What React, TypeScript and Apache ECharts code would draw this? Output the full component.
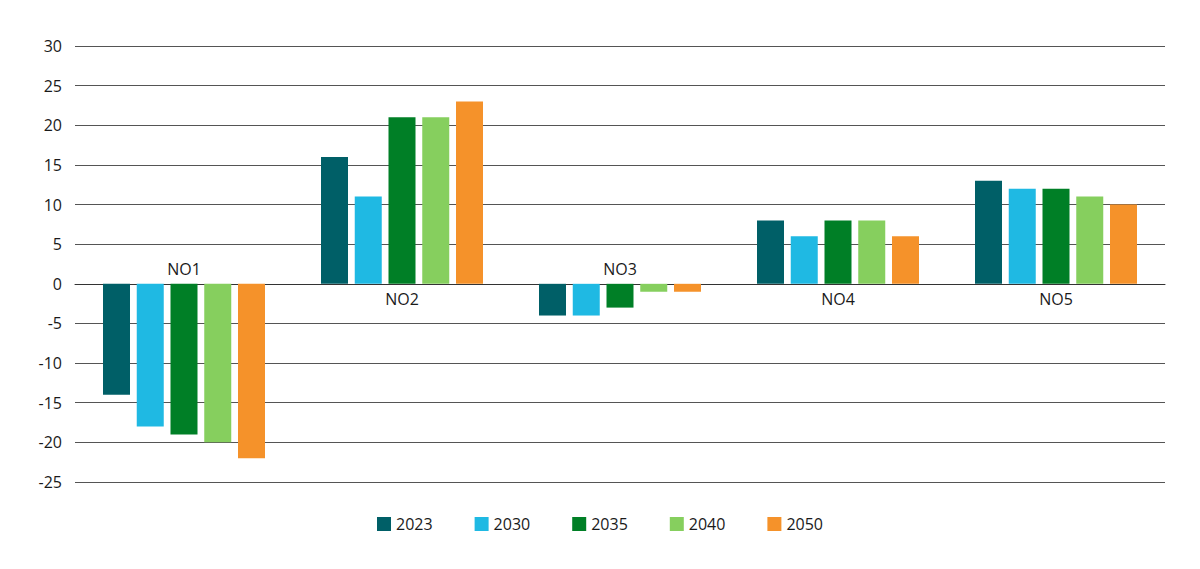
import React, { useEffect, useRef } from "react";
import * as echarts from "echarts";

const categories = ["NO1", "NO2", "NO3", "NO4", "NO5"];
const years = ["2023", "2030", "2035", "2040", "2050"];
const colors = ["#005f67", "#1fb9e3", "#007f26", "#86cf5e", "#f5922a"];
const v2023 = [-14, 16, -4, 8, 13];
const v2030 = [-18, 11, -4, 6, 12];
const v2035 = [-19, 21, -3, 8, 12];
const v2040 = [-20, 21, -1, 8, 11];
const v2050 = [-22, 23, -1, 6, 10];
const seriesValues = [v2023, v2030, v2035, v2040, v2050];
const yMin = -25;
const yMax = 30;
const yStep = 5;

const FONT = "'Open Sans', 'Noto Sans', sans-serif";
const TEXT = "#1a1a1a";

export default function App() {
  const ref = useRef<HTMLDivElement>(null);
  useEffect(() => {
    if (!ref.current) return;
    const chart = echarts.init(ref.current, null, { renderer: "svg" });
    const barSeries = years.map((y, i) => ({
      name: y,
      type: "bar",
      data: seriesValues[i],
      barWidth: 27,
      barGap: "25%",
      itemStyle: { color: colors[i] },
    }));
    const labelData = categories.map((c, ci) => {
      const neg = v2023[ci] < 0;
      return {
        value: [ci, 0],
        label: {
          show: true,
          position: neg ? "top" : "bottom",
          distance: 7,
          formatter: c,
          color: TEXT,
          opacity: 1,
          fontSize: 16,
          fontFamily: FONT,
        },
      };
    });
    chart.setOption({
      animation: false,
      textStyle: { fontFamily: FONT },
      grid: { left: 67, right: 27, top: 38, bottom: 79, containLabel: false },
      legend: {
        data: years,
        bottom: 24,
        left: "center",
        itemWidth: 14,
        itemHeight: 14,
        itemGap: 42,
        icon: "rect",
        textStyle: { fontSize: 16, color: TEXT, fontFamily: FONT },
      },
      xAxis: {
        type: "category",
        data: categories,
        axisLine: { show: true, onZero: true, lineStyle: { color: "#333", width: 1 } },
        axisTick: { show: false },
        axisLabel: { show: false },
        splitLine: { show: false },
      },
      yAxis: {
        type: "value",
        min: yMin,
        max: yMax,
        interval: yStep,
        axisLine: { show: false },
        axisTick: { show: false },
        axisLabel: { fontSize: 16, color: TEXT, margin: 13, fontFamily: FONT },
        splitLine: { show: true, lineStyle: { color: "#555", width: 1 } },
      },
      series: [
        ...barSeries,
        {
          name: "labels",
          type: "scatter",
          symbolSize: 0,
          silent: true,
          z: 5,
          itemStyle: { opacity: 1, color: TEXT },
          data: labelData,
          label: { fontSize: 16, color: TEXT, fontFamily: FONT },
        },
      ],
    });
    return () => chart.dispose();
  }, []);
  return <div ref={ref} style={{ width: 1184, height: 553 }} />;
}
